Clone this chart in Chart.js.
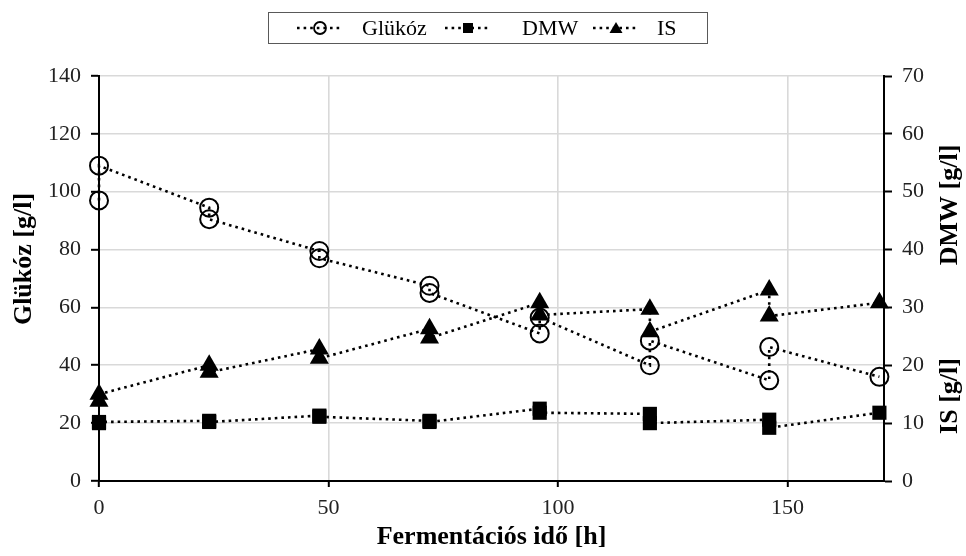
<!DOCTYPE html>
<html>
<head>
<meta charset="utf-8">
<script src="https://cdn.jsdelivr.net/npm/chart.js@4.4.1/dist/chart.umd.min.js"></script>
<style>
    html, body { margin: 0; padding: 0; background: #fff; }
</style>
</head>
<body>
<canvas id="fermChart" width="966" height="556"></canvas>
<script>
// sampling times [h] (two replicates per time, in the order the line runs)
const sampleTimes = [0, 0, 24, 24, 48, 48, 72, 72, 96, 96, 120, 120, 146, 146, 170];
// Glükóz [g/l] - left axis
const glucoseValues = [97, 109, 94.5, 90.5, 79.5, 77, 67.5, 65, 51, 56.5, 40, 48.5, 34.8, 46.3, 36];
// DMW [g/l] - right axis
const dmwValues = [10, 10.2, 10.4, 10.2, 11.3, 11.1, 10.4, 10.2, 12.5, 11.8, 11.6, 10, 10.6, 9.2, 11.8];
// IS [g/l] - right axis
const isValues = [13.8, 15, 20, 18.8, 22.8, 21.2, 26.3, 24.7, 30.8, 28.7, 29.7, 25.8, 33, 28.5, 30.8];

const seriesLabels = ['Glükóz', 'DMW', 'IS'];
const xTitle = 'Fermentációs idő [h]';
const leftTitle = 'Glükóz [g/l]';
const rightTitles = ['DMW [g/l]', 'IS [g/l]'];

const FONT = '"Liberation Serif", "Times New Roman", serif';
const DOTS = [2.6, 4];

function toPoints(xs, ys) {
    return xs.map((x, i) => ({ x: x, y: ys[i] }));
}

function baseSet(label, values, axis) {
    return {
        label: label,
        data: toPoints(sampleTimes, values),
        yAxisID: axis,
        borderColor: '#000',
        borderWidth: 2.6,
        borderDash: DOTS,
        borderCapStyle: 'butt',
        pointBorderColor: '#000',
        tension: 0,
        fill: false,
        clip: false
    };
}

// titles on the sides + boxed legend with dotted lines
const sideText = {
    id: 'sideText',
    afterDraw(chart) {
        const ctx = chart.ctx;
        ctx.save();
        ctx.fillStyle = '#000';
        ctx.textAlign = 'center';
        ctx.textBaseline = 'middle';
        ctx.font = 'bold 26px ' + FONT;

        const vText = (txt, x, y) => {
            ctx.save();
            ctx.translate(x, y);
            ctx.rotate(-Math.PI / 2);
            ctx.fillText(txt, 0, 0);
            ctx.restore();
        };
        vText(leftTitle, 24, 259);
        vText(rightTitles[0], 950, 205);
        vText(rightTitles[1], 950, 396);

        // legend box
        ctx.strokeStyle = '#595959';
        ctx.lineWidth = 1;
        ctx.strokeRect(268.5, 12.5, 439, 31);

        const items = [
            { x: 297, tx: 362, style: 'circle' },
            { x: 445, tx: 522, style: 'rect' },
            { x: 593, tx: 657, style: 'triangle' }
        ];
        const ly = 28;
        ctx.font = '22px ' + FONT;
        ctx.textAlign = 'left';
        items.forEach((it, i) => {
            ctx.save();
            ctx.strokeStyle = '#000';
            ctx.lineWidth = 2.6;
            ctx.setLineDash(DOTS);
            ctx.beginPath();
            ctx.moveTo(it.x, ly);
            ctx.lineTo(it.x + 45, ly);
            ctx.stroke();
            ctx.setLineDash([]);
            const cx = it.x + 23;
            ctx.fillStyle = '#000';
            ctx.beginPath();
            if (it.style === 'circle') {
                ctx.lineWidth = 1.8;
                ctx.arc(cx, ly, 6, 0, Math.PI * 2);
                ctx.stroke();
            } else if (it.style === 'rect') {
                ctx.rect(cx - 5, ly - 5, 10, 10);
                ctx.fill();
            } else {
                ctx.moveTo(cx, ly - 6);
                ctx.lineTo(cx + 6.5, ly + 5);
                ctx.lineTo(cx - 6.5, ly + 5);
                ctx.closePath();
                ctx.fill();
            }
            ctx.restore();
            ctx.fillStyle = '#000';
            ctx.fillText(chart.data.datasets[i].label, it.tx, ly + 1);
        });
        ctx.restore();
    }
};

const ctx = document.getElementById('fermChart');

const glucoseSet = baseSet(seriesLabels[0], glucoseValues, 'y');
glucoseSet.pointStyle = 'circle';
glucoseSet.pointRadius = 9;
glucoseSet.pointBorderWidth = 2;
glucoseSet.pointBackgroundColor = 'rgba(0,0,0,0)';

const dmwSet = baseSet(seriesLabels[1], dmwValues, 'y1');
dmwSet.pointStyle = 'rect';
dmwSet.pointRadius = 10;
dmwSet.pointBorderWidth = 0;
dmwSet.pointBackgroundColor = '#000';

const isSet = baseSet(seriesLabels[2], isValues, 'y1');
isSet.pointStyle = 'triangle';
isSet.pointRadius = 11;
isSet.pointBorderWidth = 0;
isSet.pointBackgroundColor = '#000';

const fermChart = new Chart(ctx, {
    type: 'line',
    data: {
        datasets: [glucoseSet, dmwSet, isSet]
    },
    options: {
        responsive: false,
        animation: false,
        devicePixelRatio: 1,
        layout: { padding: { top: 76, left: 0, right: 0, bottom: 0 } },
        plugins: {
            legend: { display: false },
            tooltip: { enabled: false }
        },
        scales: {
            x: {
                type: 'linear',
                min: 0,
                max: 171,
                afterBuildTicks: s => { s.ticks = s.ticks.filter(t => t.value % 50 === 0); },
                afterFit: s => { s.height = 75; },
                ticks: { stepSize: 50, color: '#222', padding: 8, maxRotation: 0, font: { family: FONT, size: 22 } },
                grid: { color: '#d9d9d9', lineWidth: 1.6, tickColor: '#000', tickLength: 6, tickWidth: 2 },
                border: { color: '#000', width: 2 },
                title: {
                    display: true,
                    text: xTitle,
                    color: '#000',
                    font: { family: FONT, size: 26, weight: 'bold' },
                    padding: { top: 0, bottom: 3 }
                }
            },
            y: {
                position: 'left',
                min: 0,
                max: 140,
                afterFit: s => { s.width = 99; },
                ticks: { stepSize: 20, color: '#222', padding: 10, font: { family: FONT, size: 22 } },
                grid: { color: '#d9d9d9', lineWidth: 1.6, tickColor: '#000', tickLength: 8, tickWidth: 2 },
                border: { color: '#000', width: 2 }
            },
            y1: {
                position: 'right',
                min: 0,
                max: 70,
                afterFit: s => { s.width = 82; },
                ticks: { stepSize: 10, color: '#222', padding: 10, font: { family: FONT, size: 22 } },
                grid: { drawOnChartArea: false, tickColor: '#000', tickLength: 8, tickWidth: 2 },
                border: { color: '#000', width: 2 }
            }
        }
    },
    plugins: [sideText]
});
</script>
</body>
</html>
